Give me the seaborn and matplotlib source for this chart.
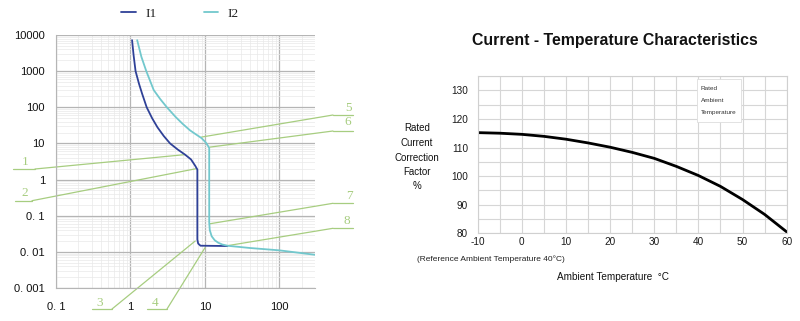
import matplotlib
matplotlib.use("Agg")
import numpy as np
import matplotlib.pyplot as plt
import seaborn as sns
from matplotlib.lines import Line2D
from matplotlib.patches import Rectangle
from matplotlib.ticker import FixedLocator, LogLocator, MultipleLocator, NullFormatter

# tripping curves: multiple of rated current vs tripping time (s)
i1_current = [1.05, 1.1, 1.17, 1.3, 1.43, 1.65, 1.95, 2.3, 2.8, 3.4, 4.3, 5.4, 6.5, 7.4, 7.9,
              7.9, 8.1, 8.7, 20]
i1_time = [7200, 2800, 1000, 450, 240, 100, 50, 28, 16, 10, 6.8, 4.9, 3.6, 2.4, 1.9,
           0.022, 0.017, 0.0148, 0.0145]

i2_current = [1.23, 1.4, 1.63, 2.05, 2.5, 3.08, 4.0, 5.0, 6.3, 7.5, 9.0, 10.3, 11.0, 11.4,
              11.4, 11.6, 12.3, 13.5, 15, 17, 20.4, 40, 100, 300]
i2_time = [7200, 2500, 1000, 300, 170, 100, 55, 35, 23, 18, 14, 10.5, 8.5, 7.5,
           0.065, 0.04, 0.027, 0.021, 0.018, 0.016, 0.0147, 0.0128, 0.011, 0.0083]

current_ticks = [0.1, 1, 10, 100]
current_tick_labels = ["0. 1", "1", "10", "100"]
time_ticks = [0.001, 0.01, 0.1, 1, 10, 100, 1000, 10000]
time_tick_labels = ["0. 001", "0. 01", "0. 1", "1", "10", "100", "1000", "10000"]

# numbered callouts and the curve points they mark
callout_labels = ["1", "2", "3", "4", "5", "6", "7", "8"]
callout_current = [5.4, 7.6, 7.4, 10, 9.0, 11.6, 11.7, 19.5]
callout_time = [4.9, 2.0, 0.02, 0.013, 15, 7.9, 0.06, 0.0147]

# current - temperature characteristics
temperature = [-10, -5, 0, 5, 10, 15, 20, 25, 30, 35, 40, 45, 50, 55, 60]
correction = [115.2, 115.0, 114.6, 113.9, 112.9, 111.6, 110.1, 108.3, 106.2, 103.4,
              100.2, 96.4, 91.8, 86.6, 80.5]
temp_ticks = [-10, 0, 10, 20, 30, 40, 50, 60]
corr_ticks = [80, 90, 100, 110, 120, 130]

W, H = 800, 321
GREEN = "#a7cd80"
C1 = "#2f4197"
C2 = "#72c8cd"


def fxy(px, py):
    return px / W, 1 - py / H


# callout layout in pixels from the top-left corner
callout_layout = {
    "1": dict(text=(25, 162), line=(13, 35), y=169, elbow=35),
    "2": dict(text=(25, 193), line=(15, 32), y=200.7, elbow=32),
    "3": dict(text=(100, 303), line=(92, 112), y=309, elbow=112),
    "4": dict(text=(155, 303), line=(147, 167), y=309, elbow=167),
    "5": dict(text=(348, 108), line=(333, 353), y=115, elbow=333),
    "6": dict(text=(348, 122), line=(333, 353), y=131, elbow=333),
    "7": dict(text=(349, 196), line=(333, 353), y=203.3, elbow=333),
    "8": dict(text=(347, 221), line=(333, 353), y=228.3, elbow=333),
}

sns.set_style("white")
plt.rcParams["font.family"] = ["Liberation Sans", "DejaVu Sans"]
plt.rcParams["axes.unicode_minus"] = False

fig = plt.figure(figsize=(8, 3.21), dpi=100)

# ---- left: tripping curves ----
ax1 = fig.add_axes([56 / W, 1 - 288 / H, (315 - 56) / W, (288 - 35) / H])
sns.lineplot(x=i1_current, y=i1_time, ax=ax1, color=C1, lw=1.3, sort=False,
             estimator=None, label="I1", zorder=3)
sns.lineplot(x=i2_current, y=i2_time, ax=ax1, color=C2, lw=1.3, sort=False,
             estimator=None, label="I2", zorder=3)
ax1.set_xscale("log")
ax1.set_yscale("log")
ax1.set_xlim(0.1, 300)
ax1.set_ylim(0.001, 10000)
ax1.xaxis.set_major_locator(FixedLocator(current_ticks))
ax1.set_xticklabels(current_tick_labels)
ax1.yaxis.set_major_locator(FixedLocator(time_ticks))
ax1.set_yticklabels(time_tick_labels)
ax1.xaxis.set_minor_locator(LogLocator(base=10, subs=np.arange(2, 10)))
ax1.yaxis.set_minor_locator(LogLocator(base=10, subs=np.arange(2, 10), numticks=20))
ax1.xaxis.set_minor_formatter(NullFormatter())
ax1.yaxis.set_minor_formatter(NullFormatter())
ax1.grid(which="major", color="#b5b5b5", lw=0.9)
ax1.grid(which="minor", color="#e9e9e9", lw=0.5)
ax1.tick_params(which="both", length=0, labelsize=8, labelcolor="#111111")
ax1.tick_params(axis="y", pad=8)
ax1.tick_params(axis="x", pad=10)
for s in ax1.spines.values():
    s.set_visible(False)
ax1.spines["bottom"].set_visible(True)
ax1.spines["bottom"].set_color("#b5b5b5")
ax1.spines["left"].set_visible(True)
ax1.spines["left"].set_color("#b5b5b5")

handles, labels = ax1.get_legend_handles_labels()
ax1.get_legend().remove()
fig.legend(handles, labels, loc="center", bbox_to_anchor=fxy(180, 14), ncol=2,
           frameon=False, handlelength=1.1, handletextpad=0.7, columnspacing=3.6,
           prop={"family": "Liberation Serif", "size": 9.5}, labelcolor="#222222")

for lab, cx, cy in zip(callout_labels, callout_current, callout_time):
    lay = callout_layout[lab]
    x0, x1 = lay["line"]
    yy = 1 - lay["y"] / H
    fig.add_artist(Line2D([x0 / W, x1 / W], [yy, yy], transform=fig.transFigure,
                          color=GREEN, lw=0.9))
    ax1.annotate("", xy=(cx, cy), xycoords="data", xytext=fxy(lay["elbow"], lay["y"]),
                 textcoords="figure fraction", annotation_clip=False, zorder=2,
                 arrowprops=dict(arrowstyle="-", color=GREEN, lw=0.9, shrinkA=0, shrinkB=0))
    fig.text(*fxy(*lay["text"]), lab, ha="center", va="center",
             family="Liberation Serif", fontsize=9.5, color=GREEN)

# ---- right: current - temperature characteristics ----
ax2 = fig.add_axes([477.7 / W, 1 - 233.3 / H, 309 / W, 157.3 / H])
sns.lineplot(x=temperature, y=correction, ax=ax2, color="black", lw=2)
ax2.set_xlim(-10, 60)
ax2.set_ylim(80, 135)
ax2.xaxis.set_major_locator(FixedLocator(temp_ticks))
ax2.yaxis.set_major_locator(FixedLocator(corr_ticks))
ax2.xaxis.set_minor_locator(MultipleLocator(5))
ax2.yaxis.set_minor_locator(MultipleLocator(5))
ax2.grid(which="both", color="#d6d6d6", lw=0.8)
ax2.tick_params(which="both", length=0, labelsize=7.2, labelcolor="#1a1a1a")
ax2.tick_params(axis="y", pad=7)
ax2.tick_params(axis="x", pad=3)
ax2.set_xlabel("")
ax2.set_ylabel("")
for s in ax2.spines.values():
    s.set_color("#d0d0d0")
    s.set_linewidth(0.8)

ax2.add_patch(Rectangle((0.709, 0.709), 0.143, 0.27, transform=ax2.transAxes,
                        facecolor="white", edgecolor="#dddddd", lw=0.6, zorder=4))
for txt, ty in zip(["Rated", "Ambient", "Temperature"], [0.921, 0.843, 0.766]):
    ax2.text(0.722, ty, txt, transform=ax2.transAxes, fontsize=4.6,
             ha="left", va="center", color="#333333", zorder=5)

fig.text(*fxy(615, 40), "Current - Temperature Characteristics", ha="center",
         va="center", fontsize=11.4, fontweight="bold", color="#111111")
for txt, ty in zip(["Rated", "Current", "Correction", "Factor", "%"],
                   [128, 143.3, 158, 171.7, 186]):
    fig.text(*fxy(417, ty), txt, ha="center", va="center", fontsize=7, color="#111111")
fig.text(*fxy(417, 259), "(Reference Ambient Temperature 40°C)", ha="left",
         va="center", fontsize=6, color="#222222")
fig.text(*fxy(613, 277), "Ambient Temperature  °C", ha="center", va="center",
         fontsize=7.2, color="#111111")

fig.savefig("out.png", dpi=100)
